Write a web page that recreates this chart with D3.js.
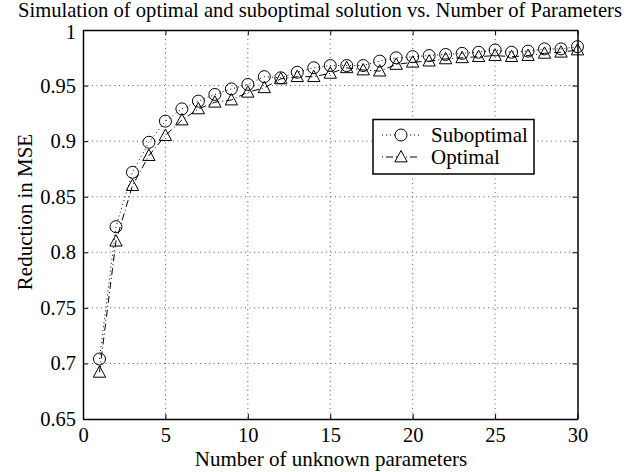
<!DOCTYPE html>
<html>
<head>
<meta charset="utf-8">
<script src="https://cdn.jsdelivr.net/npm/d3@7"></script>
<style>
  html, body { margin: 0; padding: 0; background: #fff; }
  svg text { font-family: "Liberation Serif", "Times New Roman", serif; fill: #000; }
</style>
</head>
<body>
<svg id="chart" width="633" height="472"></svg>
<script>
// Number of unknown parameters (x values)
const params = d3.range(1, 31);

// Reduction in MSE for each parameter count
const suboptimal = [0.704, 0.823, 0.872, 0.899, 0.918, 0.929, 0.936, 0.942, 0.947, 0.951,
                    0.958, 0.957, 0.962, 0.966, 0.968, 0.968, 0.968, 0.972, 0.975, 0.976,
                    0.977, 0.978, 0.979, 0.980, 0.982, 0.980, 0.981, 0.983, 0.983, 0.985];
const optimal    = [0.692, 0.810, 0.860, 0.887, 0.905, 0.919, 0.929, 0.935, 0.937, 0.944,
                    0.948, 0.956, 0.958, 0.958, 0.961, 0.966, 0.964, 0.963, 0.969, 0.971,
                    0.972, 0.974, 0.975, 0.976, 0.977, 0.976, 0.977, 0.979, 0.980, 0.982];

const xTicks = [0, 5, 10, 15, 20, 25, 30];
const yTicks = [0.65, 0.7, 0.75, 0.8, 0.85, 0.9, 0.95, 1];

const titleText = "Simulation of optimal and suboptimal solution vs. Number of Parameters";
const xLabel = "Number of unknown parameters";
const yLabel = "Reduction in MSE";
const seriesNames = ["Suboptimal", "Optimal"];

const svg = d3.select("#chart");
const margin = { left: 83, right: 577.5, top: 30, bottom: 419 };

const x = d3.scaleLinear().domain([0, 30]).range([margin.left, margin.right]);
const y = d3.scaleLinear().domain([0.65, 1]).range([margin.bottom, margin.top]);

const fmtY = v => (v === 1 ? "1" : d3.format(".2~f")(v));

// Dotted grid
const grid = svg.append("g").attr("stroke", "#333").attr("stroke-width", 0.8)
  .attr("stroke-dasharray", "1,3.5");
grid.selectAll(".gx").data(xTicks.slice(1, -1)).join("line")
  .attr("x1", d => x(d)).attr("x2", d => x(d))
  .attr("y1", margin.top).attr("y2", margin.bottom);
grid.selectAll(".gy").data(yTicks.slice(1, -1)).join("line")
  .attr("y1", d => y(d)).attr("y2", d => y(d))
  .attr("x1", margin.left).attr("x2", margin.right);

// Axes with inward ticks on all four sides
const axFont = "20.5px";
const gB = svg.append("g").attr("transform", `translate(0,${margin.bottom})`)
  .call(d3.axisBottom(x).tickValues(xTicks).tickSizeInner(-5).tickSizeOuter(0).tickPadding(8));
const gT = svg.append("g").attr("transform", `translate(0,${margin.top})`)
  .call(d3.axisTop(x).tickValues(xTicks).tickSizeInner(-5).tickSizeOuter(0).tickFormat(""));
const gL = svg.append("g").attr("transform", `translate(${margin.left},0)`)
  .call(d3.axisLeft(y).tickValues(yTicks).tickSizeInner(-5).tickSizeOuter(0).tickPadding(7).tickFormat(fmtY));
const gR = svg.append("g").attr("transform", `translate(${margin.right},0)`)
  .call(d3.axisRight(y).tickValues(yTicks).tickSizeInner(-5).tickSizeOuter(0).tickFormat(""));
[gB, gT, gL, gR].forEach(g => {
  g.select(".domain").attr("stroke", "#000").attr("stroke-width", 1.5);
  g.selectAll(".tick line").attr("stroke", "#000").attr("stroke-width", 1);
  g.selectAll(".tick text").style("font-size", axFont)
    .style("font-family", "'Liberation Serif', serif").attr("fill", "#000");
});
// keep the top "1" label clear of the title
gL.selectAll(".tick text").filter(d => d === 1).attr("dy", "0.42em");

// Series lines
const line = d3.line().x((d, i) => x(params[i])).y(d => y(d));
svg.append("path").datum(suboptimal).attr("d", line)
  .attr("fill", "none").attr("stroke", "#000").attr("stroke-width", 1)
  .attr("stroke-dasharray", "1,3");
svg.append("path").datum(optimal).attr("d", line)
  .attr("fill", "none").attr("stroke", "#000").attr("stroke-width", 1)
  .attr("stroke-dasharray", "7,3,1,3");

// Markers
const triPath = s => `M0,${-s}L${s * 0.95},${s * 0.75}L${-s * 0.95},${s * 0.75}Z`;
svg.append("g").selectAll("circle").data(suboptimal).join("circle")
  .attr("cx", (d, i) => x(params[i])).attr("cy", d => y(d)).attr("r", 6)
  .attr("fill", "none").attr("stroke", "#000").attr("stroke-width", 1);
svg.append("g").selectAll("path").data(optimal).join("path")
  .attr("transform", (d, i) => `translate(${x(params[i])},${y(d)})`)
  .attr("d", triPath(6.5))
  .attr("fill", "none").attr("stroke", "#000").attr("stroke-width", 1);

// Title and axis labels
svg.append("text").attr("x", 320).attr("y", 17).attr("text-anchor", "middle")
  .style("font-size", "20.6px").text(titleText);
svg.append("text").attr("x", 331).attr("y", 466).attr("text-anchor", "middle")
  .style("font-size", "21px").text(xLabel);
svg.append("text").attr("transform", "translate(32,212) rotate(-90)")
  .attr("text-anchor", "middle").style("font-size", "21px").text(yLabel);

// Legend
const leg = svg.append("g");
leg.append("rect").attr("x", 373).attr("y", 119.5).attr("width", 161).attr("height", 54.5)
  .attr("fill", "#fff").attr("stroke", "#000").attr("stroke-width", 1.5);
const rows = [135, 157];
leg.append("line").attr("x1", 382).attr("x2", 420).attr("y1", rows[0]).attr("y2", rows[0])
  .attr("stroke", "#000").attr("stroke-dasharray", "1,3");
leg.append("circle").attr("cx", 401).attr("cy", rows[0]).attr("r", 6)
  .attr("fill", "#fff").attr("stroke", "#000");
leg.append("line").attr("x1", 382).attr("x2", 420).attr("y1", rows[1]).attr("y2", rows[1])
  .attr("stroke", "#000").attr("stroke-dasharray", "1,3,7,3,7,3");
leg.append("path").attr("transform", `translate(401,${rows[1]})`).attr("d", triPath(6.5))
  .attr("fill", "#fff").attr("stroke", "#000");
leg.selectAll("text").data(seriesNames).join("text")
  .attr("x", 431).attr("y", (d, i) => rows[i] + 7)
  .style("font-size", "21px").text(d => d);
</script>
</body>
</html>
